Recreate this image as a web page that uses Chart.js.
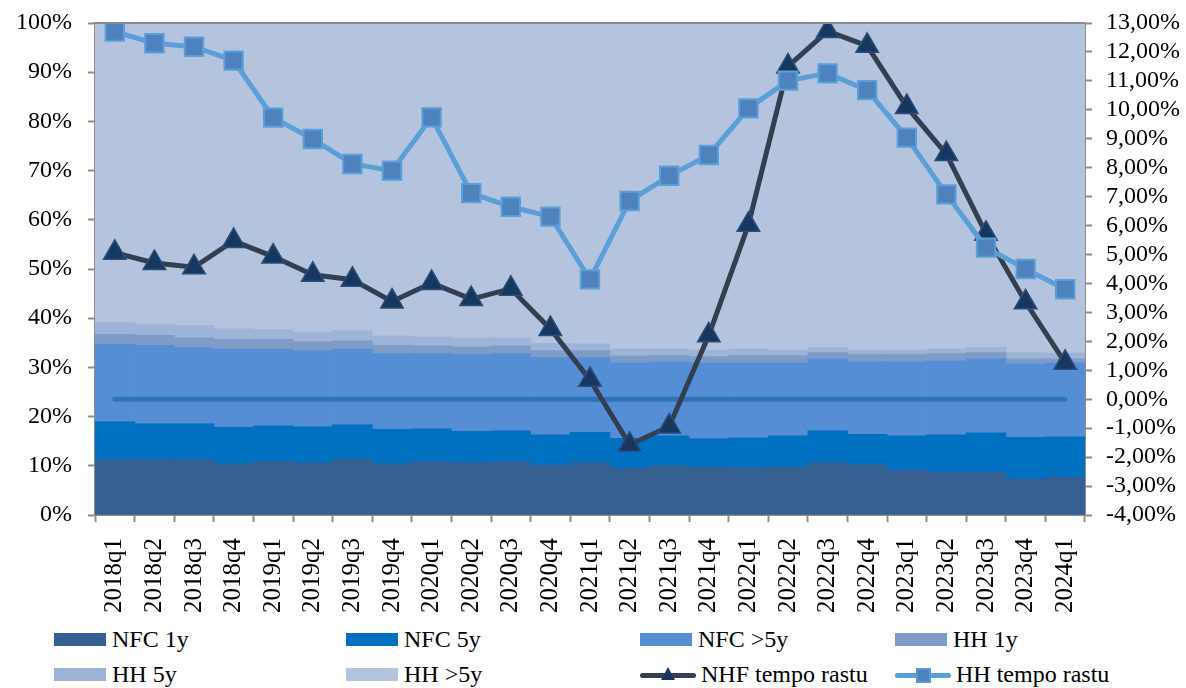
<!DOCTYPE html>
<html>
<head>
<meta charset="utf-8">
<script src="https://cdn.jsdelivr.net/npm/chart.js@4.4.1/dist/chart.umd.min.js"></script>
<style>
  body { margin: 0; background: #fff; font-family: "Liberation Serif", serif; }
  #wrap { position: relative; width: 1186px; height: 688px; }
  #chart { position: absolute; left: 0; top: 0; }
  #legend {
    position: absolute; left: 54px; top: 622px;
    display: grid; grid-template-columns: 292px 294px 255px 280px;
    grid-auto-rows: 35px; font-size: 24px; color: #000;
  }
  .item { display: flex; align-items: center; white-space: nowrap; }
  .box { width: 52px; height: 13px; margin-right: 6px; }
  .sample { position: relative; width: 56px; height: 20px; margin-right: 5px; }
  .sample .ln { position: absolute; left: 0; right: 0; top: 8px; height: 5px; border-radius: 3px; }
  .sample .tri { position: absolute; left: 21px; top: 2px; width: 0; height: 0;
    border-left: 7px solid transparent; border-right: 7px solid transparent; border-bottom: 13px solid #17375e; }
  .sample .sq { position: absolute; left: 21px; top: 3px; width: 11px; height: 11px;
    background: #4f81bd; border: 2px solid #5b9bd5; }
</style>
</head>
<body>
<div id="wrap">
  <canvas id="chart" width="1186" height="620"></canvas>
  <div id="legend"></div>
</div>
<script>
// categories
const quarters = ['2018q1', '2018q2', '2018q3', '2018q4', '2019q1', '2019q2', '2019q3', '2019q4',
  '2020q1', '2020q2', '2020q3', '2020q4', '2021q1', '2021q2', '2021q3', '2021q4',
  '2022q1', '2022q2', '2022q3', '2022q4', '2023q1', '2023q2', '2023q3', '2023q4', '2024q1'];

// shares (left axis, %)
const nfc1y = [11.2, 11.2, 11.2, 10.4, 10.9, 10.6, 11.3, 10.4, 10.8, 10.6, 10.8, 10.1, 10.6, 9.5, 10.0, 9.7, 9.6, 9.7, 10.6, 10.2, 9.1, 8.7, 8.7, 7.3, 7.7];
const nfc5y = [7.8, 7.4, 7.4, 7.4, 7.2, 7.3, 7.1, 7.0, 6.7, 6.4, 6.3, 6.2, 6.2, 6.1, 6.1, 5.8, 6.1, 6.4, 6.5, 6.2, 7.0, 7.6, 8.0, 8.5, 8.2];
const nfcOver5y = [15.7, 15.9, 15.4, 15.9, 15.6, 15.5, 15.3, 15.4, 15.3, 15.6, 15.7, 15.7, 15.2, 15.4, 15.0, 15.5, 15.3, 14.9, 14.7, 14.8, 15.1, 15.1, 15.1, 15.0, 15.1];
const hh1y = [2.0, 2.0, 2.0, 2.0, 2.0, 1.8, 1.7, 1.7, 1.6, 1.6, 1.6, 1.4, 1.4, 1.3, 1.3, 1.2, 1.4, 1.4, 1.2, 1.4, 1.4, 1.4, 1.2, 1.0, 0.8];
const hh5y = [2.4, 2.3, 2.5, 2.2, 2.0, 2.0, 2.1, 1.9, 1.8, 1.8, 1.6, 1.5, 1.4, 1.4, 1.3, 1.3, 1.3, 1.1, 1.1, 0.9, 0.9, 0.9, 1.1, 1.2, 1.1];
const hhOver5y = [60.9, 61.2, 61.5, 62.1, 62.3, 62.8, 62.5, 63.6, 63.8, 64.0, 64.0, 65.1, 65.2, 66.3, 66.3, 66.5, 66.3, 66.5, 65.9, 66.5, 66.5, 66.3, 65.9, 67.0, 67.1];

// growth rates (right axis, %)
const nhfGrowth = [5.06, 4.71, 4.56, 5.47, 4.93, 4.30, 4.13, 3.38, 4.02, 3.46, 3.82, 2.43, 0.67, -1.57, -0.94, 2.21, 6.03, 11.50, 12.72, 12.21, 10.10, 8.47, 5.72, 3.35, 1.26];
const hhGrowth = [12.70, 12.30, 12.18, 11.70, 9.73, 8.99, 8.13, 7.90, 9.74, 7.12, 6.65, 6.31, 4.14, 6.85, 7.72, 8.44, 10.05, 11.01, 11.26, 10.68, 9.04, 7.08, 5.24, 4.50, 3.80];
const zeroLine = [0, 0, 0, 0, 0, 0, 0, 0, 0, 0, 0, 0, 0, 0, 0, 0, 0, 0, 0, 0, 0, 0, 0, 0, 0];

// tick labels
const leftTicks = [0, 10, 20, 30, 40, 50, 60, 70, 80, 90, 100];
const rightTicks = [-4, -3, -2, -1, 0, 1, 2, 3, 4, 5, 6, 7, 8, 9, 10, 11, 12, 13];

const FONT = { family: '"Liberation Serif", serif', size: 24 };
const AXIS = '#8c8c8c';

const bar = (label, data, color) => ({
    type: 'bar', label: label, data: data, backgroundColor: color,
    borderWidth: 0, yAxisID: 'y', order: 10,
    barPercentage: 1, categoryPercentage: 1
});

// fixed axis size, no extra label padding above/below the plot
const fixWidth = (w) => (s) => { s.width = w; s.paddingTop = 0; s.paddingBottom = 0; };

// grey frame line along the top of the plot
const topBorder = {
    id: 'topBorder',
    afterDatasetsDraw(chart) {
        const a = chart.chartArea, ctx = chart.ctx;
        ctx.save();
        ctx.strokeStyle = AXIS;
        ctx.lineWidth = 2;
        ctx.beginPath();
        ctx.moveTo(a.left, a.top);
        ctx.lineTo(a.right, a.top);
        ctx.stroke();
        ctx.restore();
    }
};

const chart = new Chart(document.getElementById('chart'), {
    data: {
        labels: quarters,
        datasets: [
            bar('NFC 1y', nfc1y, '#366092'),
            bar('NFC 5y', nfc5y, '#0070c0'),
            bar('NFC >5y', nfcOver5y, '#558ed5'),
            bar('HH 1y', hh1y, '#7f9bc8'),
            bar('HH 5y', hh5y, '#9db3d7'),
            bar('HH >5y', hhOver5y, '#b4c4df'),
            {
                type: 'line', label: 'NHF tempo rastu', data: nhfGrowth, yAxisID: 'y1', order: 1,
                borderColor: '#333f50', borderWidth: 5, tension: 0,
                pointStyle: 'triangle', pointRadius: 13, pointHoverRadius: 13,
                pointBackgroundColor: '#17375e', pointBorderColor: '#2a4d7a', pointBorderWidth: 1.5
            },
            {
                type: 'line', label: 'HH tempo rastu', data: hhGrowth, yAxisID: 'y1', order: 0,
                borderColor: '#5b9fd9', borderWidth: 5, tension: 0,
                pointStyle: 'rect', pointRadius: 13, pointHoverRadius: 13,
                pointBackgroundColor: '#4f81bd', pointBorderColor: '#5b9fd9', pointBorderWidth: 2
            },
            {
                type: 'line', label: '', data: zeroLine, yAxisID: 'y1', order: 2,
                borderColor: '#2e75b6', borderWidth: 5, borderCapStyle: 'round',
                pointRadius: 0, pointHoverRadius: 0
            }
        ]
    },
    options: {
        responsive: false,
        animation: false,
        layout: { padding: { top: 23, left: 0, right: 0, bottom: 0 } },
        plugins: {
            legend: { display: false },
            tooltip: { enabled: false }
        },
        scales: {
            x: {
                stacked: true,
                offset: true,
                grid: { offset: true, drawOnChartArea: false, tickLength: 7, tickColor: AXIS, tickWidth: 2 },
                border: { color: AXIS, width: 2 },
                ticks: { font: { family: FONT.family, size: 25 }, color: '#000', minRotation: 90, maxRotation: 90, padding: 16, autoSkip: false },
                afterFit: (s) => { s.height = 105; }
            },
            y: {
                stacked: true,
                position: 'left',
                min: 0, max: 100,
                afterBuildTicks: (s) => { s.ticks = leftTicks.map(v => ({ value: v })); },
                grid: { drawOnChartArea: false, tickLength: 7, tickColor: AXIS, tickWidth: 2 },
                border: { color: AXIS, width: 2 },
                ticks: { font: FONT, color: '#000', padding: 16, autoSkip: false, callback: (v) => v + '%' },
                afterFit: fixWidth(95)
            },
            y1: {
                stacked: false,
                position: 'right',
                min: -4, max: 13,
                afterBuildTicks: (s) => { s.ticks = rightTicks.map(v => ({ value: v })); },
                grid: { drawOnChartArea: false, tickLength: 7, tickColor: AXIS, tickWidth: 2 },
                border: { color: AXIS, width: 2 },
                ticks: { font: FONT, color: '#000', padding: 14, autoSkip: false,
                    callback: (v) => v.toFixed(2).replace('.', ',') + '%' },
                afterFit: fixWidth(101)
            }
        }
    },
    plugins: [topBorder]
});

// legend laid out in a 4-column grid like the original
const legendEl = document.getElementById('legend');
chart.data.datasets.filter(d => d.label).forEach(d => {
    const item = document.createElement('div');
    item.className = 'item';
    let swatch;
    if (d.type === 'bar') {
        swatch = '<span class="box" style="background:' + d.backgroundColor + '"></span>';
    } else {
        const marker = d.pointStyle === 'triangle' ? '<span class="tri"></span>' : '<span class="sq"></span>';
        swatch = '<span class="sample"><span class="ln" style="background:' + d.borderColor + '"></span>' + marker + '</span>';
    }
    item.innerHTML = swatch + '<span>' + d.label + '</span>';
    legendEl.appendChild(item);
});
</script>
</body>
</html>
